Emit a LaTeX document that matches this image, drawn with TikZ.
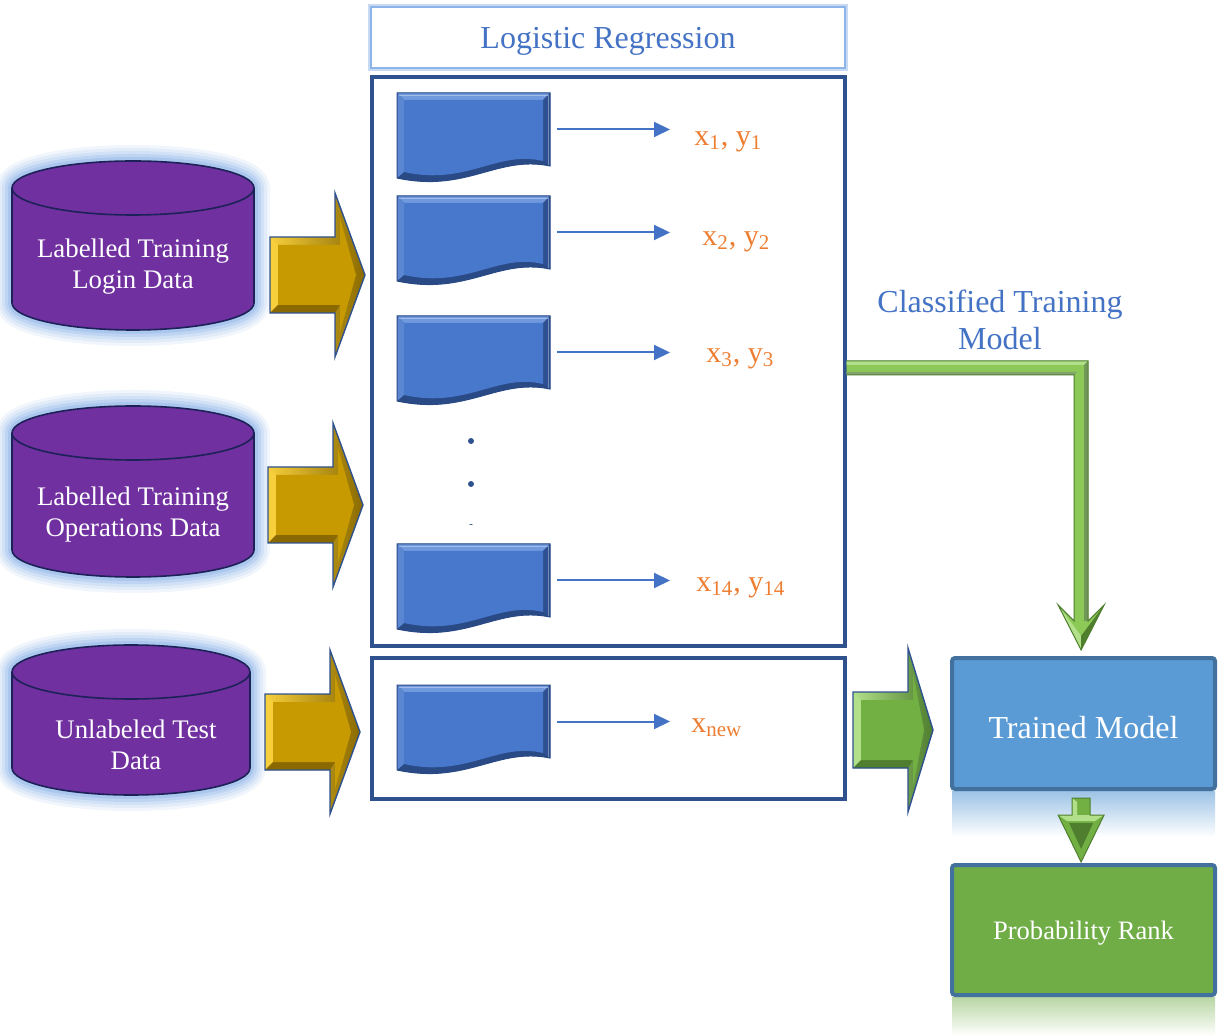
\documentclass[tikz,border=0pt]{standalone}
\usepackage{fontspec}
\setmainfont{Liberation Serif}
\usetikzlibrary{fit,arrows.meta,calc}
\definecolor{purp}{HTML}{7030A0}
\definecolor{cylline}{HTML}{1C2258}
\definecolor{glowc}{HTML}{8DB4E8}
\definecolor{boxblue}{HTML}{2F528F}
\definecolor{acc}{HTML}{4472C4}
\definecolor{org}{HTML}{ED7D31}
\definecolor{tmfill}{HTML}{5B9BD5}
\definecolor{tmline}{HTML}{41719C}
\definecolor{prfill}{HTML}{70AD47}
\definecolor{goldlight}{HTML}{F7CF3C}
\definecolor{goldmain}{HTML}{C69A00}
\definecolor{golddark}{HTML}{8A6A00}
\definecolor{grlight}{HTML}{B2E08A}
\definecolor{grmain}{HTML}{72B043}
\definecolor{grdark}{HTML}{4E7E2E}
\definecolor{elbow}{HTML}{8CC957}
\definecolor{docdark}{HTML}{2A4A86}
\definecolor{docface}{HTML}{4878CC}
\definecolor{doctop}{HTML}{7099DE}
\definecolor{docleft}{HTML}{5A86D2}
\definecolor{docright}{HTML}{2E5092}

\newcommand{\mycylpath}[5]{(#1-#2,#3) -- (#1-#2,#4) arc[start angle=180,end angle=0,x radius=#2,y radius=#5] -- (#1+#2,#3) arc[start angle=0,end angle=-180,x radius=#2,y radius=#5] -- cycle}
\newcommand{\mycyl}[6]{%
  \foreach \w/\o in {16pt/0.12,13pt/0.15,10pt/0.2,7pt/0.28,4pt/0.4}{%
    \draw[glowc, line width=\w, opacity=\o, line join=round] \mycylpath{#2}{#3}{#4}{#5}{#6};}
  \fill[purp] \mycylpath{#2}{#3}{#4}{#5}{#6};
  \draw[cylline, line width=0.8pt] (#2-#3,#4) -- (#2-#3,#5) arc[start angle=180,end angle=0,x radius=#3,y radius=#6] -- (#2+#3,#4);
  \draw[cylline, line width=0.8pt, fill=purp] (#2,#4) ellipse[x radius=#3, y radius=#6];
  \node[fit={(#2-#3,#4-#6) (#2+#3,#5+#6)}, inner sep=0] (#1) {};
}
\newcommand{\mydoc}[3]{%
  \begin{scope}[shift={(#2,#3)}]
    \fill[docdark] (0,0) -- (153,0) -- (153,73) .. controls (100,62) and (70,100) .. (0,85) -- cycle;
    \fill[doctop] (0,0) -- (153,0) -- (146,7) -- (7,7) -- cycle;
    \fill[docleft] (0,0) -- (7,7) -- (7,79) -- (0,85) -- cycle;
    \fill[docright] (153,0) -- (153,73) -- (146,68) -- (146,7) -- cycle;
    \fill[docface] (7,7) -- (146,7) -- (146,68) .. controls (100,57) and (70,93) .. (7,79) -- cycle;
    \draw[docdark, line width=0.5pt] (0,0) -- (153,0) -- (153,73) .. controls (100,62) and (70,100) .. (0,85) -- cycle;
    \draw[white, opacity=0.35, line width=0.4pt] (2,2) -- (151,2) -- (151,72);
  \end{scope}
  \node[fit={(#2,#3) (#2+153,#3+73)}, inner sep=0] (#1) {};
}
% #1 xl, #2 xh, #3 xt, #4 yc, #5 light, #6 main, #7 dark
\newcommand{\myblk}[7]{%
  \shade[left color=#5, right color=#7] (#1,#4-38) -- (#2,#4-38) -- (#2,#4-82) -- (#3,#4) -- (#2,#4+82) -- (#2,#4+38) -- (#1,#4+38) -- cycle;
  \fill[#5] (#1,#4-38) -- (#1+8,#4-30) -- (#1+8,#4+30) -- (#1,#4+38) -- cycle;
  \fill[#7] (#1,#4+38) -- (#1+8,#4+30) -- (#2+5,#4+30) -- (#2,#4+38) -- cycle;
  \fill[#6] (#1+8,#4-30) -- (#2+5,#4-30) -- (#2+5,#4-57) -- (#3-9,#4) -- (#2+5,#4+57) -- (#2+5,#4+30) -- (#1+8,#4+30) -- cycle;
  \draw[boxblue, line width=0.7pt, line join=miter] (#1,#4-38) -- (#2,#4-38) -- (#2,#4-82) -- (#3,#4) -- (#2,#4+82) -- (#2,#4+38) -- (#1,#4+38) -- cycle;
}

\begin{document}
\begin{tikzpicture}[x=0.5pt,y=-0.5pt,
  bigbox/.style={draw=boxblue, line width=1.6pt, inner sep=0},
  lbl/.style={text=org, font=\fontsize{15}{17}\selectfont, anchor=west, inner sep=0},
  docarrow/.style={draw=acc, line width=1pt, -{Triangle[length=8pt,width=7.5pt]}},
  cyltext/.style={text=white, align=center, font=\fontsize{13.4}{15.5}\selectfont},
  resbox/.style={line width=2pt, draw=tmline, rounded corners=1.5pt, inner sep=0}]
\useasboundingbox (0,0) rectangle (1225,1036);

% title
\draw[glowc!50, line width=3pt] (371,7) rectangle (845,68);
\node[fit={(371,7) (845,68)}, draw=glowc, line width=1.2pt, fill=white, inner sep=0] (title) {};
\node[text=acc, font=\fontsize{16}{19}\selectfont, yshift=-2pt] (titletext) at (title.center) {Logistic Regression};

% boxes
\node[fit={(372,77) (845,646)}, bigbox] (lr) {};
\node[fit={(372,658) (845,799)}, bigbox] (tb) {};

% documents
\mydoc{d1}{397}{93}
\mydoc{d2}{397}{196}
\mydoc{d3}{397}{316}
\mydoc{d4}{397}{544}
\mydoc{d5}{397}{685}

\path (670,0) coordinate (xa);
\node[lbl] (l1) at (694,142) {x\textsubscript{1}, y\textsubscript{1}};
\node[lbl] (l2) at (702,242) {x\textsubscript{2}, y\textsubscript{2}};
\node[lbl] (l3) at (706,359) {x\textsubscript{3}, y\textsubscript{3}};
\node[lbl] (l4) at (696,588) {x\textsubscript{14}, y\textsubscript{14}};
\node[lbl] (l5) at (691,728) {x\textsubscript{new}};
\foreach \d in {d1,d2,d3,d4,d5}{
  \draw[docarrow] ([xshift=3.5pt]\d.east) -- (\d.east -| xa);
}

% dots
\fill[boxblue] (471,441) circle[radius=3];
\fill[boxblue] (471,484) circle[radius=3];
\begin{scope}
  \clip (460,515) rectangle (480,525);
  \fill[boxblue] (471,527) circle[radius=3];
\end{scope}

% cylinders
\mycyl{c1}{133}{121}{188}{303}{27}
\mycyl{c2}{133}{121}{433}{550}{27}
\mycyl{c3}{131}{119}{672}{768}{27}
\node[cyltext] (t1) at (133,267) {Labelled Training\\Login Data};
\node[cyltext] (t2) at (133,515) {Labelled Training\\Operations Data};
\node[cyltext] (t3) at (136,745) {Unlabeled Test\\Data};

% block arrows
\myblk{270}{335}{365}{275}{goldlight}{goldmain}{golddark}
\myblk{268}{333}{363}{505}{goldlight}{goldmain}{golddark}
\myblk{265}{330}{360}{732}{goldlight}{goldmain}{golddark}
\myblk{853}{908}{933}{730}{grlight}{grmain}{grdark}

% result boxes with reflections
\shade[top color=tmfill!60, bottom color=white] (952,791) rectangle (1215,837);
\shade[top color=prfill!50, bottom color=white] (952,997) rectangle (1215,1036);
\node[fit={(952,658) (1215,789)}, resbox, fill=tmfill] (tm) {};
\node[text=white, font=\fontsize{16}{19}\selectfont, yshift=-2pt] (tmtext) at (tm.center) {Trained Model};
\node[fit={(952,865) (1215,995)}, resbox, fill=prfill] (pr) {};
\node[text=white, font=\fontsize{13.3}{16}\selectfont, yshift=-1.5pt] (prtext) at (pr.center) {Probability Rank};

% classified label
\node[text=acc, align=center, font=\fontsize{16}{18.5}\selectfont] (cl) at (1000,320) {Classified Training\\Model};

% elbow arrow
\path (0,368) coordinate (ey);
\coordinate (e0) at (lr.east |- ey);
\coordinate (e1) at ([xshift=-1.2pt]tm.north |- ey);
\coordinate (eh) at ([xshift=-1.2pt]tm.north);
\fill[elbow] ($(e0)+(0,-7)$) -- ($(e1)+(7,-7)$) -- ($(eh)+(7,-35)$) -- ($(eh)+(23,-51)$) -- ($(eh)+(0,-6)$) -- ($(eh)+(-23,-51)$) -- ($(eh)+(-7,-35)$) -- ($(e1)+(-7,7)$) -- ($(e0)+(0,7)$) -- cycle;
\fill[grlight] ($(e0)+(0,-7)$) -- ($(e1)+(7,-7)$) -- ($(e1)+(3,-3)$) -- ($(e0)+(0,-3)$) -- cycle;
\fill[grdark!80] ($(e1)+(7,-7)$) -- ($(eh)+(7,-35)$) -- ($(eh)+(3,-35)$) -- ($(e1)+(3,-3)$) -- cycle;
\fill[grdark!70] ($(e0)+(0,7)$) -- ($(e1)+(-7,7)$) -- ($(e1)+(-4,4)$) -- ($(e0)+(0,4)$) -- cycle;
\fill[grlight] ($(eh)+(-23,-51)$) -- ($(eh)+(0,-6)$) -- ($(eh)+(0,-20)$) -- cycle;
\fill[grdark] ($(eh)+(23,-51)$) -- ($(eh)+(0,-6)$) -- ($(eh)+(0,-20)$) -- cycle;
\draw[grdark, line width=0.5pt, line join=miter] ($(e0)+(0,-7)$) -- ($(e1)+(7,-7)$) -- ($(eh)+(7,-35)$) -- ($(eh)+(23,-51)$) -- ($(eh)+(0,-6)$) -- ($(eh)+(-23,-51)$) -- ($(eh)+(-7,-35)$) -- ($(e1)+(-7,7)$) -- ($(e0)+(0,7)$);

% small down arrow
\coordinate (s0) at ([xshift=-1.2pt]tm.south);
\fill[grmain] ($(s0)+(-9,7)$) -- ($(s0)+(9,7)$) -- ($(s0)+(9,24)$) -- ($(s0)+(23,24)$) -- ($(s0)+(0,71)$) -- ($(s0)+(-23,24)$) -- ($(s0)+(-9,24)$) -- cycle;
\fill[grlight] ($(s0)+(-9,7)$) -- ($(s0)+(-4,11)$) -- ($(s0)+(-4,28)$) -- ($(s0)+(-9,24)$) -- cycle;
\fill[grlight] ($(s0)+(-23,24)$) -- ($(s0)+(23,24)$) -- ($(s0)+(14,30)$) -- ($(s0)+(-14,30)$) -- cycle;
\fill[grdark] ($(s0)+(-12,32)$) -- ($(s0)+(12,32)$) -- ($(s0)+(0,58)$) -- cycle;
\draw[grdark, line width=0.5pt] ($(s0)+(-9,7)$) -- ($(s0)+(9,7)$) -- ($(s0)+(9,24)$) -- ($(s0)+(23,24)$) -- ($(s0)+(0,71)$) -- ($(s0)+(-23,24)$) -- ($(s0)+(-9,24)$) -- cycle;
\end{tikzpicture}
\end{document}
